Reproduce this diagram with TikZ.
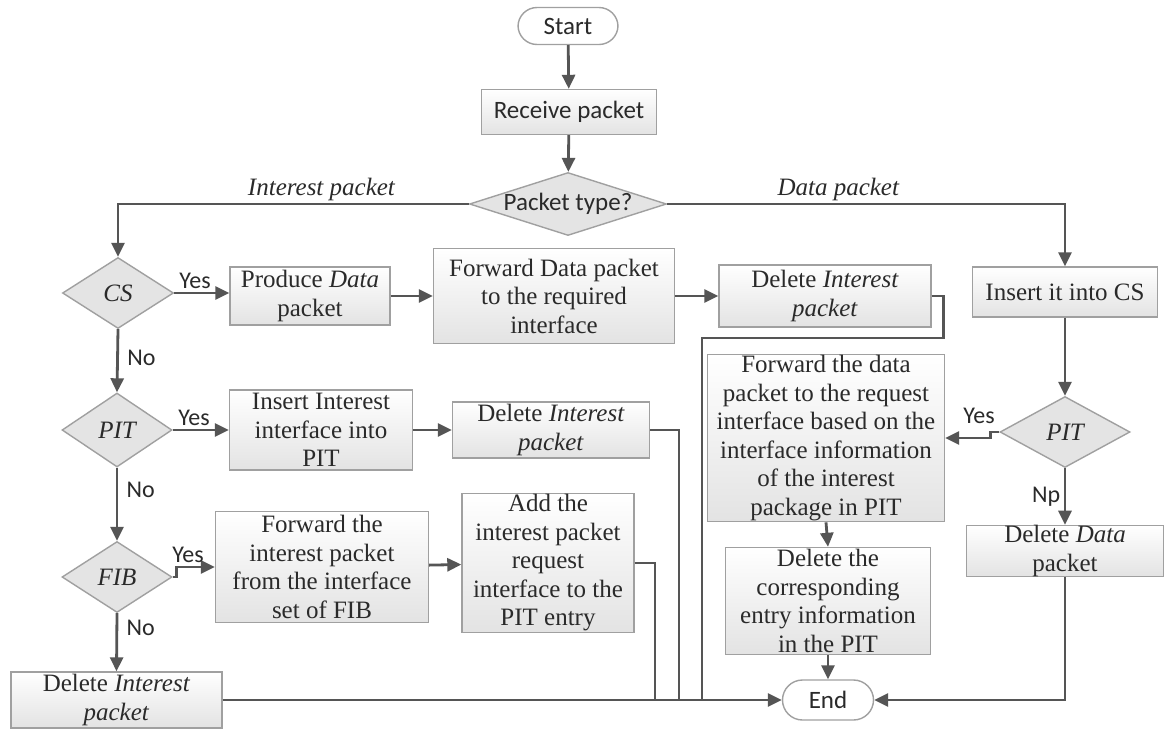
\documentclass[tikz,border=0pt]{standalone}
\usepackage{fontspec}
\setmainfont{Liberation Serif}
\newfontfamily\sff{Carlito}
\usetikzlibrary{shapes.geometric,arrows.meta}
\definecolor{lncol}{HTML}{555555}
\definecolor{bdcol}{HTML}{A0A0A0}
\definecolor{txcol}{HTML}{2A2A2A}
\definecolor{dfcol}{HTML}{E4E4E4}
\begin{document}
\begin{tikzpicture}[x=1pt,y=-1pt,
  font=\fontsize{25}{28.5}\selectfont, text=txcol,
  box/.style={draw=bdcol, line width=1.4pt, top color=white, bottom color=black!11, align=center, inner sep=1pt},
  term/.style={draw=bdcol, line width=1.4pt, fill=white, rounded corners=19pt, inner sep=0pt, font=\sff\fontsize{25}{28}\selectfont},
  dia/.style={diamond, draw=bdcol, line width=1.4pt, fill=dfcol, inner sep=0pt},
  dlab/.style={font=\itshape\fontsize{25}{28}\selectfont, text=txcol},
  slab/.style={font=\sff\fontsize{25}{28}\selectfont, text=txcol},
  yn/.style={font=\sff\fontsize{24}{26}\selectfont, text=txcol},
  arr/.style={draw=lncol, line width=2.8pt, -{Triangle[length=14pt,width=13pt]}},
  wire/.style={draw=lncol, line width=2.8pt},
]
\useasboundingbox (0,0) rectangle (1171,729);
\fill[white] (0,0) rectangle (1171,729);

% nodes
\node[term, minimum width=100pt, minimum height=37pt] (start) at (568,26) {Start};
\node[box, minimum width=175pt, minimum height=45pt, font=\sff\fontsize{25}{28}\selectfont] (recv) at (569,112) {Receive packet};
\node[dia, minimum width=197pt, minimum height=63pt, label={[slab]center:Packet type?}] (ptype) at (568,204) {};

\node[dia, minimum width=111pt, minimum height=71pt, label={[dlab]center:CS}] (cs) at (118,293) {};
\node[box, minimum width=160pt, minimum height=58pt] (produce) at (310,296) {Produce \textit{Data}\\packet};
\node[box, minimum width=241pt, minimum height=95pt] (fwd1) at (554,296) {Forward Data packet\\to the required\\interface};
\node[box, minimum width=212pt, minimum height=62pt] (del1) at (825,296) {Delete \textit{Interest}\\\textit{packet}};
\node[box, minimum width=185pt, minimum height=50pt] (inscs) at (1065,292) {Insert it into CS};

\node[dia, minimum width=110pt, minimum height=74pt, label={[dlab]center:PIT}] (pitL) at (117,430) {};
\node[box, minimum width=183pt, minimum height=80pt] (inspit) at (321,430) {Insert Interest\\interface into\\PIT};
\node[box, minimum width=197pt, minimum height=56pt] (del2) at (551,430) {Delete \textit{Interest}\\\textit{packet}};

\node[dia, minimum width=130pt, minimum height=71pt, label={[dlab]center:PIT}] (pitR) at (1065,432) {};
\node[box, minimum width=237pt, minimum height=167pt] (fwd2) at (826,438) {Forward the data\\packet to the request\\interface based on the\\interface information\\of the interest\\package in PIT};

\node[dia, minimum width=110pt, minimum height=71pt, label={[dlab]center:FIB}] (fib) at (117,577) {};
\node[box, minimum width=213pt, minimum height=111pt] (fwdint) at (322,567) {Forward the\\interest packet\\from the interface\\set of FIB};
\node[box, minimum width=172pt, minimum height=137pt] (addint) at (548,563) {Add the\\interest packet\\request\\interface to the\\PIT entry};

\node[box, minimum width=197pt, minimum height=48pt, inner sep=0pt] (deldata) at (1065,551) {Delete \textit{Data}\\packet};
\node[box, minimum width=205pt, minimum height=107pt] (delcorr) at (828,601) {Delete the\\corresponding\\entry information\\in the PIT};

\node[box, minimum width=211pt, minimum height=56pt] (del3) at (116.5,700) {Delete \textit{Interest}\\\textit{packet}};
\node[term, minimum width=91pt, minimum height=40pt, rounded corners=20pt] (end) at (828,700) {End};

\coordinate (jA) at (702,338);
\coordinate (jB) at (702,700);
\coordinate (jC) at (679,700);
\coordinate (jD) at (655,700);

% connectors
\draw[arr] (start) -- (recv);
\draw[arr] (recv) -- (ptype);
\draw[arr] (ptype.west) -| node[pos=0.21, above, inner sep=2pt, dlab]{Interest packet} (cs.north);
\draw[arr] (ptype.east) -| node[pos=0.215, above, inner sep=2pt, dlab]{Data packet} (inscs.north);

\draw[arr] (cs.east) -- node[yn, above, pos=0.38]{Yes} (cs.east -| produce.west);
\draw[arr] (produce) -- (fwd1);
\draw[arr] (fwd1) -- (del1);
\draw[wire] (del1.east) -- ++(12,0) |- (jA) -- (jB);

\draw[arr] (cs.south) -- node[yn, right, xshift=5pt, pos=0.45]{No} (pitL.north);
\draw[arr] (pitL.east) -- node[yn, above, pos=0.38]{Yes} (inspit.west);
\draw[arr] (inspit) -- (del2);
\draw[wire] (del2.east) -- (del2.east -| jC) -- (jC);

\draw[arr] (pitL.south) -- node[yn, right, xshift=5pt, pos=0.3]{No} (fib.north);
\draw[arr] (fib.east) -- ++(4,0) -- ++(0,-10) -- node[yn, above, pos=0.3]{Yes} (fwdint.west);
\draw[arr] (fwdint) -- (addint);
\draw[wire] (addint.east) -- (addint.east -| jD) -- (jD);

\draw[arr] (fib.south) -- node[yn, right, xshift=5pt, pos=0.25]{No} (del3.north);
\draw[arr] (del3.east) -- (end.west);

\draw[arr] (inscs.south) -- (pitR.north);
\draw[arr] (pitR.west) -- ++(-9,0) -- ++(0,6) -- node[yn, above=10pt, pos=0.25]{Yes} (fwd2.east);
\draw[arr] (pitR.south) -- node[yn, left, pos=0.5]{Np} (deldata.north);
\draw[arr] (fwd2.south) -- (delcorr.north);
\draw[arr] (delcorr.south) -- (end.north);
\draw[arr] (deldata.south) |- (end.east);
\end{tikzpicture}
\end{document}
